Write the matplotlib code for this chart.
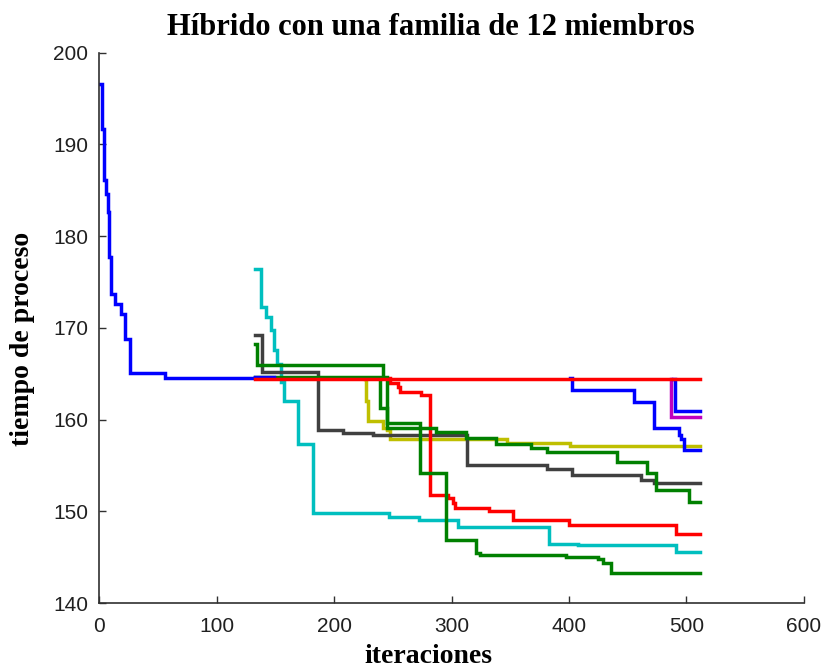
import matplotlib
matplotlib.use("Agg")
import matplotlib.pyplot as plt

# --- data (step curves: value changes to y[i] at x[i]) ---
blue1_x = [1, 2.5, 4, 5.5, 7, 8.5, 10, 13.5, 18.5, 22, 26.5, 56, 133, 149]
blue1_y = [196.6, 191.7, 186.1, 184.6, 182.6, 177.7, 173.7, 172.6, 171.5, 168.8, 165.1, 164.5, 164.7, 164.7]

cyan_x = [133, 137.6, 141.8, 146, 148.8, 151.6, 154.4, 157.2, 169.6, 182.3, 247, 272.6, 305.5, 383.3, 407.3, 490.9, 512]
cyan_y = [176.4, 172.3, 171.2, 169.8, 167.6, 166.1, 164.1, 162.0, 157.4, 149.8, 149.4, 149.1, 148.35, 146.5, 146.35, 145.6, 145.6]

yellow_x = [226.3, 227.5, 229, 241.8, 245, 247.5, 347, 401.3, 512]
yellow_y = [164.45, 162.0, 159.9, 159.05, 158.9, 157.95, 157.45, 157.1, 157.1]

black_x = [133, 138.2, 186.3, 207.6, 233, 312.8, 381.6, 402.8, 461.4, 472.4, 512]
black_y = [169.2, 165.2, 158.9, 158.55, 158.35, 155.05, 154.6, 154.0, 153.45, 153.1, 153.1]

red2_x = [244.6, 247.5, 254.5, 256, 274.4, 281.4, 297, 301.4, 302.8, 332.3, 352, 400.3, 490.8, 512]
red2_y = [164.5, 164.0, 163.6, 163.05, 162.7, 151.8, 151.45, 150.9, 150.35, 150.0, 149.1, 148.5, 147.55, 147.55]

greenC_x = [133, 134, 241.8, 244.8, 287, 312.6, 338, 368, 381.6, 441, 466.5, 474, 502, 512]
greenC_y = [168.3, 166.0, 164.6, 159.1, 158.7, 158.0, 157.35, 156.9, 156.5, 155.4, 154.2, 152.3, 151.0, 151.0]

greenD_x = [133, 239, 244.6, 272.9, 295.6, 321, 324, 397.4, 424.3, 428.6, 435.6, 512]
greenD_y = [164.65, 161.25, 159.6, 154.2, 146.9, 145.45, 145.25, 145.05, 144.85, 144.35, 143.35, 143.35]

blue2_x = [401.3, 403, 455.4, 472.4, 493.6, 495, 497.9, 512]
blue2_y = [164.5, 163.2, 161.9, 159.05, 158.3, 157.95, 156.75, 156.75]

magenta_x = [486.5, 487, 512]
magenta_y = [164.45, 160.3, 160.3]

blue3_x = [489, 490, 512]
blue3_y = [164.45, 161.0, 161.0]

red_x = [133, 512]
red_y = [164.45, 164.45]

xticks = [0, 100, 200, 300, 400, 500, 600]
yticks = [140, 150, 160, 170, 180, 190, 200]

BLUE = '#0000ff'
GREEN = '#008000'
RED = '#ff0000'
CYAN = '#00bfbf'
MAGENTA = '#bf00bf'
YELLOW = '#bfbf00'
BLACK = '#404040'

series = [
    (cyan_x, cyan_y, CYAN),
    (yellow_x, yellow_y, YELLOW),
    (black_x, black_y, BLACK),
    (red2_x, red2_y, RED),
    (greenC_x, greenC_y, GREEN),
    (greenD_x, greenD_y, GREEN),
    (blue1_x, blue1_y, BLUE),
    (blue2_x, blue2_y, BLUE),
    (magenta_x, magenta_y, MAGENTA),
    (blue3_x, blue3_y, BLUE),
    (red_x, red_y, RED),
]

tick_font = ['Liberation Sans', 'DejaVu Sans']
serif_font = ['Liberation Serif', 'DejaVu Serif']

fig = plt.figure(figsize=(8.24, 6.70), dpi=100)
ax = fig.add_axes([0.1205, 0.0996, 0.855, 0.822])

for xs, ys, c in series:
    ax.step(xs, ys, where='post', color=c, linewidth=2.5, solid_joinstyle='miter')

ax.set_xlim(0, 600)
ax.set_ylim(140, 200)
ax.set_xticks(xticks)
ax.set_yticks(yticks)
ax.tick_params(direction='in', length=5, width=1, color='#303030',
               labelsize=15, labelcolor='#202020')
ax.tick_params(axis='x', pad=10)
ax.tick_params(axis='y', pad=8)
for lab in ax.get_xticklabels() + ax.get_yticklabels():
    lab.set_family(tick_font)

ax.spines['top'].set_visible(False)
ax.spines['right'].set_visible(False)
for s in ['left', 'bottom']:
    ax.spines[s].set_linewidth(1.2)
    ax.spines[s].set_color('#303030')

fig.text(431 / 824, 1 - 35 / 670, 'Híbrido con una familia de 12 miembros',
         ha='center', va='baseline', fontsize=22, fontweight='bold', family=serif_font)
fig.text(428 / 824, 1 - 663 / 670, 'iteraciones',
         ha='center', va='baseline', fontsize=20, fontweight='bold', family=serif_font)
fig.text(23 / 824, 1 - 339 / 670, 'tiempo de proceso', rotation=90,
         ha='center', va='center', fontsize=20, fontweight='bold', family=serif_font)

fig.savefig('out.png', dpi=100, facecolor='white')
